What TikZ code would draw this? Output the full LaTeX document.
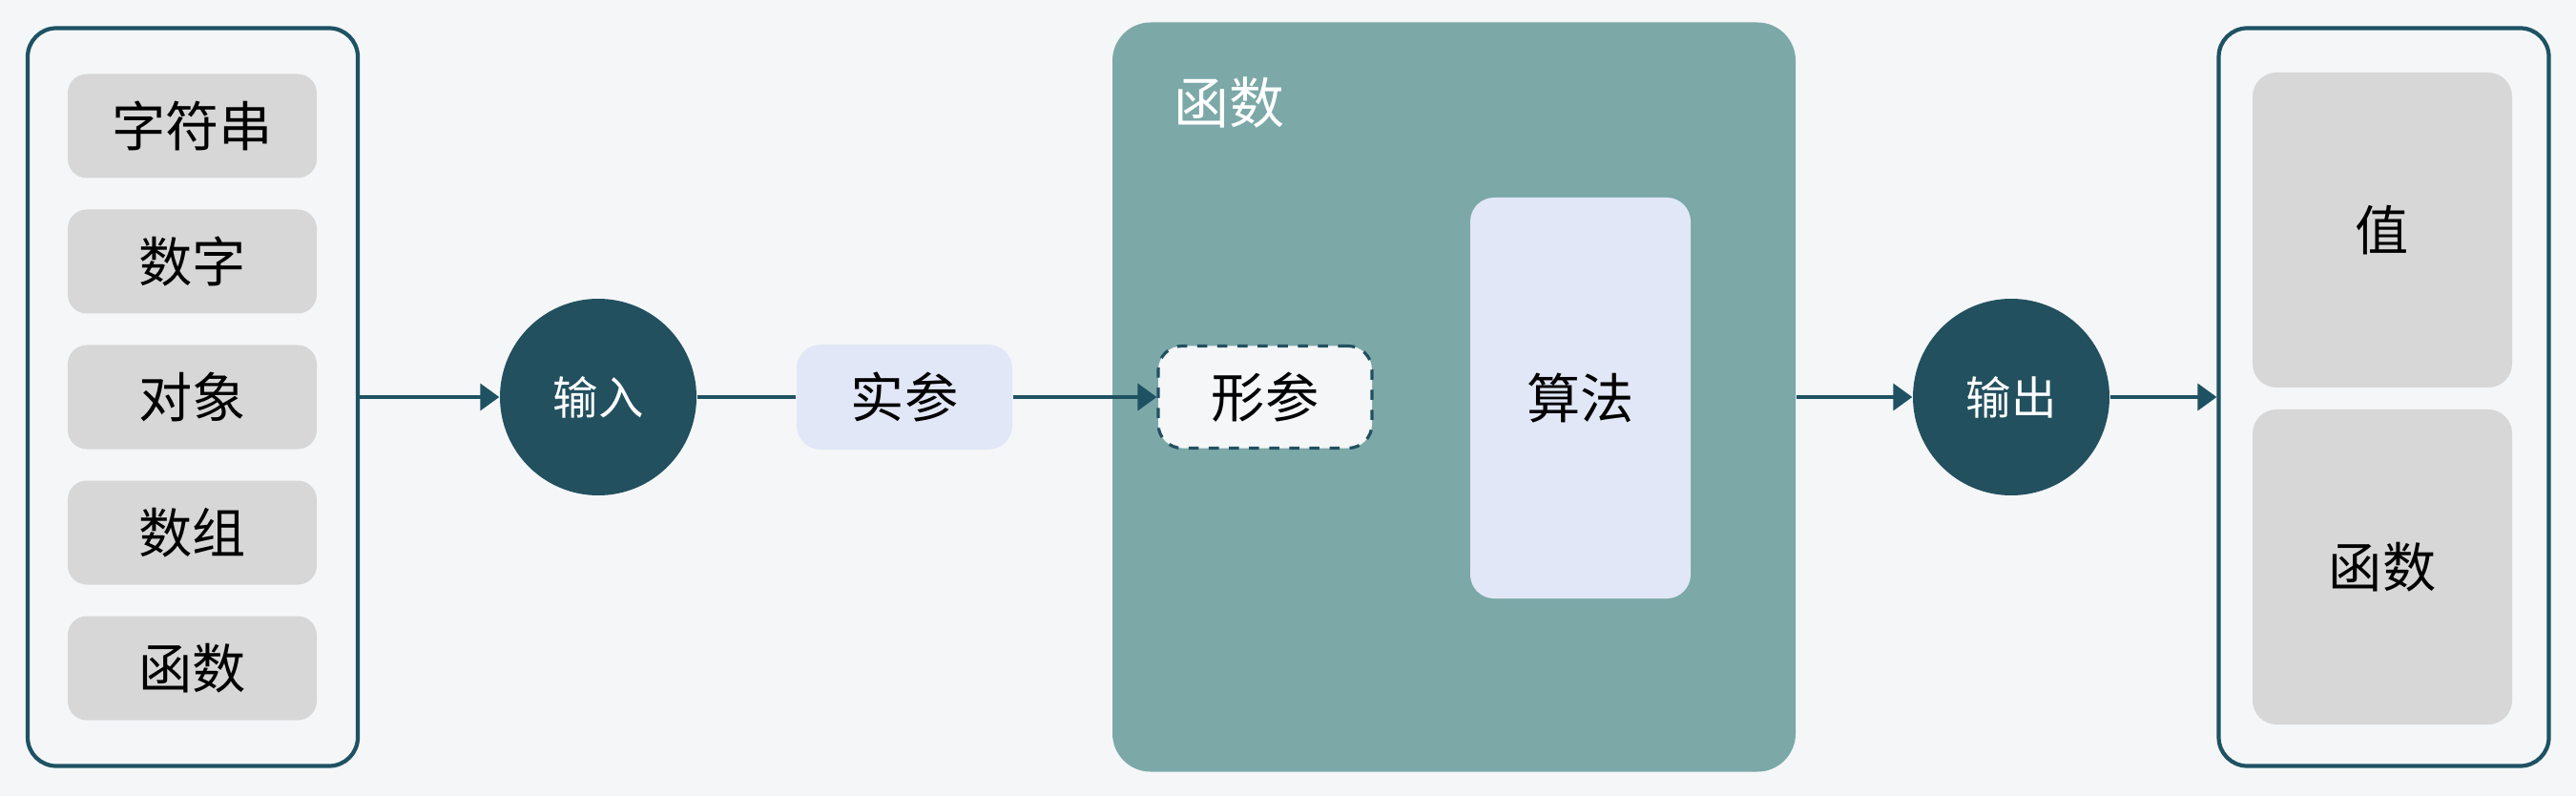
\documentclass[tikz,border=0pt]{standalone}
\usepackage{fontspec}
\setmainfont{Noto Sans CJK SC}
\usepackage{tikz}
\usetikzlibrary{arrows.meta}

\definecolor{bgcol}{HTML}{F4F6F8}
\definecolor{edgecol}{HTML}{1E5263}
\definecolor{darkteal}{HTML}{22505F}
\definecolor{itemgray}{HTML}{D7D7D7}
\definecolor{paleblue}{HTML}{E1E7F6}
\definecolor{midteal}{HTML}{7CA8A8}

\begin{document}
\begin{tikzpicture}[
    outerbox/.style={draw=edgecol, line width=1.2pt, rounded corners=0.3cm, minimum width=3.46cm, minimum height=7.73cm},
    itembox/.style={fill=itemgray, rounded corners=0.2cm, minimum width=2.61cm, minimum height=1.09cm, inner sep=0pt, font=\fontsize{16}{19}\selectfont},
    io/.style={circle, fill=darkteal, text=white, minimum size=2.06cm, inner sep=0pt, font=\fontsize{13.5}{16}\selectfont},
    link/.style={draw=edgecol, line width=1pt},
    arr/.style={link, -{Triangle[length=2mm,width=2.8mm]}}
]
% background and margins
\fill[bgcol] (0,0) rectangle (27,8.34);
\useasboundingbox (0,0) rectangle (27,8.34);

% Inputs - column of types
\node[outerbox] (inbox) at (2.02,4.18) {};
\foreach \lbl [count=\i] in {字符串,数字,对象,数组,函数} {
    \node[itembox] (in\i) at (2.015,{4.18+1.42*(3-\i)}) {\lbl};
}

% Input circle and argument
\node[io] (input) at (6.27,4.18) {输入};
\node[fill=paleblue, rounded corners=0.25cm, minimum width=2.26cm, minimum height=1.1cm, inner sep=0pt, font=\fontsize{16}{19}\selectfont] (arg) at (9.48,4.18) {实参};

% Function block
\node[fill=midteal, rounded corners=0.4cm, minimum width=7.16cm, minimum height=7.85cm] (func) at (15.24,4.18) {};
\node[text=white, font=\fontsize{16.5}{20}\selectfont] (funclbl) at (12.88,7.26) {函数};
\node[fill=bgcol, draw=darkteal, dashed, line width=0.9pt, rounded corners=0.25cm, minimum width=2.24cm, minimum height=1.07cm, inner sep=0pt, font=\fontsize{16}{19}\selectfont] (param) at (13.26,4.18) {形参};
\node[fill=paleblue, rounded corners=0.25cm, minimum width=2.31cm, minimum height=4.2cm, inner sep=0pt, font=\fontsize{16}{19}\selectfont] (algo) at (16.565,4.17) {算法};

% Output circle and results
\node[io] (output) at (21.08,4.18) {输出};
\node[outerbox] (outbox) at (24.985,4.18) {};
\node[itembox, minimum width=2.72cm, minimum height=3.3cm, rounded corners=0.25cm] (val) at (24.97,5.93) {值};
\node[itembox, minimum width=2.72cm, minimum height=3.3cm, rounded corners=0.25cm] (fret) at (24.97,2.40) {函数};

% Connectors
\draw[arr] (inbox.east) -- (input.west);
\draw[link] (input.east) -- (arg.west);
\draw[arr] (arg.east) -- (param.west);
\draw[arr] (func.east) -- (output.west);
\draw[arr] (output.east) -- (outbox.west);
\end{tikzpicture}
\end{document}
